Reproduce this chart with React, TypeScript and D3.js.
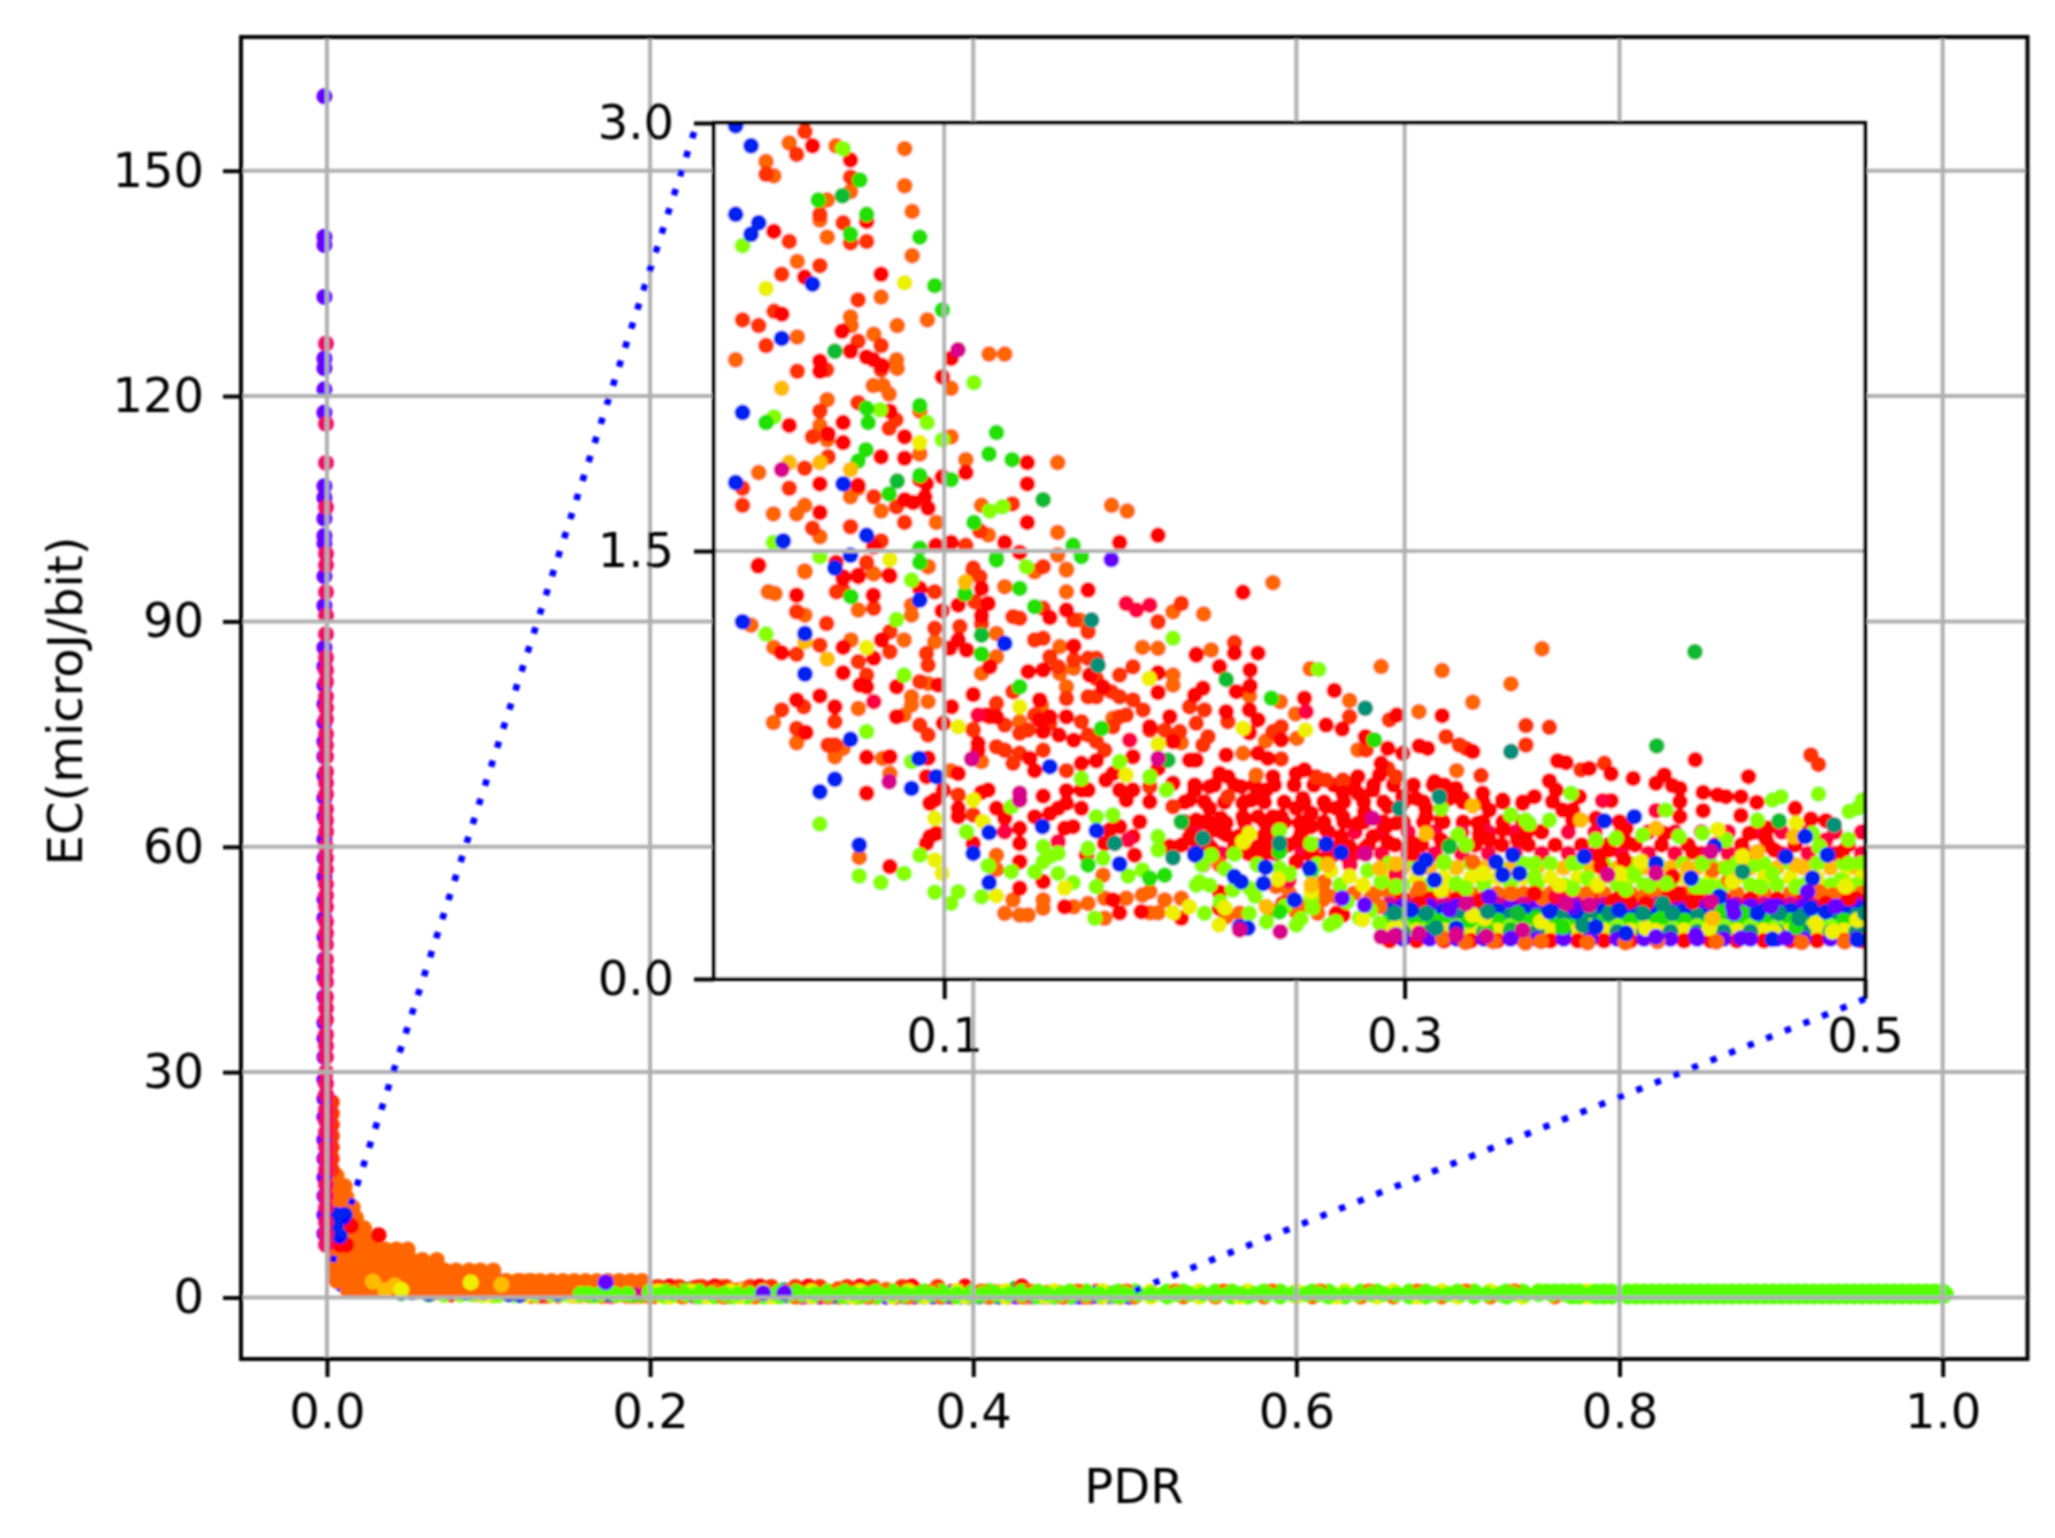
import { useEffect, useRef } from "react";
import * as d3 from "d3";

type Pt = [number, number];

// inset + main share these (PDR, EC)
const orangePts: Pt[] = [
  [.0327,2.93],[.053,2.92],[.0828,2.91],[.0226,2.865],[.026,2.815],[.0828,2.78],[.0593,2.76],[.0492,2.73],[.046,2.66],[.0861,2.69],
  [.0492,2.6],[.0861,2.535],[.0362,2.515],[.0726,2.39],[.0593,2.32],[.0596,2.29],[.0927,2.31],[.0796,2.29],[.0362,2.25],[.0694,2.26],
  [.0094,2.17],[.0793,2.17],[.0796,2.14],[.1195,2.19],[.1263,2.19],[.103,2.07],[.0692,2.08],[.0735,2.08],[.0761,2.05],[.0492,2.03],
  [.0894,1.99],[.046,1.94],[.0492,1.89],[.103,1.9],[.0894,1.84],[.1094,1.82],[.1493,1.81],[.0194,1.775],[.0626,1.72],[.0593,1.69],
  [.0394,1.66],[.0359,1.63],[.0258,1.63],[.0726,1.64],[.1162,1.66],[.1727,1.66],[.1795,1.64],[.0966,1.6],[.1192,1.556],[.046,1.55],
  [.1493,1.565],[.1493,1.486],[.0394,1.43],[.093,1.445],[.1531,1.436],[.1393,1.43],[.0694,1.42],
  [.0395,1.427],[.0236,1.357],[.0265,1.351],[.0692,1.421],[.0931,1.445],[.1393,1.427],[.1531,1.433],[.1531,1.357],[.1263,1.375],
  [.0858,1.31],[.0858,1.275],[.0627,1.293],[.0395,1.275],[.0161,1.24],[.026,1.162],[.0595,1.188],[.0826,1.188],[.0959,1.182],[.1227,1.211],
  [.1227,1.129],[.1162,1.071],[.1994,1.287],[.1589,1.258],[.1861,1.162],[.1929,1.159],[.1502,1.165],[.1502,1.071],[.1563,1.089],[.1994,1.065],
  [.1994,1.03],[.093,1.036],[.1531,1.024],[.0858,.989],[.0858,.96],[.093,.972],[.0627,.948],[.0826,.925],[.0258,.899],[.0359,.828],
  [.0561,.808],[.0525,.779],[.0732,.773],[.0764,.72],[.1029,.73],[.1162,.762],[.1263,.802],[.1126,.875],[.1423,.96],[.1328,.902],
  [.1733,.914],[.203,.828],[.0631,.426],[.1227,.434],[.1227,.384],[.169,.364],[.143,.277],[.143,.248],[.1299,.277],[.1263,.23],
  [.1328,.224],[.1365,.224],[.1563,.253],[.1625,.265],[.1697,.283],[.1697,.213],[.1791,.283],[.1893,.306],[.1861,.294],[.1893,.232],
  [.1929,.232],[.1958,.277],[.203,.283],
  [.2428,1.389],[.2127,1.279],[.216,1.153],[.259,1.087],[.2898,1.095],[.3163,1.081],[.3462,1.034],[.3296,.97],[.3062,.937],[.2761,.976],
  [.246,.972],[.2526,.929],[.2326,.992],[.2797,.803],[.2298,.791],[.2396,.834],[.2532,.843],[.2355,.715],[.3226,.73],[.2442,.324],
  [.2645,.277],[.2645,.312],[.2413,.242],[.2623,.23],[.2529,.236],[.2225,.218],[.2283,.23],[.3166,.143],[.2196,.4],[.3064,.318],
  [.2869,.3],[.2891,.254],[.3296,.411],[.3462,.3],
  [.3597,1.157],[.3795,.3],[.4041,.289],[.4801,.306],[.441,.347],[.4338,.382],[.4859,.294],[.36,.283],[.3593,.131],[.3795,.127],[.3959,.127],[.4099,.131],
  [.3265,.128],[.3525,.126],[.3385,.131],[.4355,.13],[.4725,.128],[.4912,.13],
  [.25,.3],[.265,.34],[.278,.3],[.258,.26],[.27,.29],[.285,.28],
];

const redOrangePts: Pt[] = [
  [.0395,2.97],[.0359,2.89],[.0226,2.82],[.0593,2.81],[.046,2.68],[.0561,2.65],[.0593,2.58],[.0663,2.585],[.0327,2.585],[.046,2.5],
  [.0294,2.47],[.0626,2.38],[.0261,2.34],[.0124,2.31],[.0194,2.29],[.0226,2.22],[.0626,2.235],[.0726,2.22],[.0362,2.13],[.0489,2.135],
  [.0726,2.135],[.0626,2.02],[.046,1.99],[.079,1.96],[.0761,1.93],[.0428,1.9],[.0496,1.83],[.0394,1.79],[.0124,1.72],[.0327,1.72],
  [.0694,1.69],[.0124,1.66],[.0828,1.6],[.0428,1.58],[.0593,1.585],[.0726,1.535],[.1094,1.52],[.1155,1.57],[.0663,1.46],[.1296,1.665],
  [.0793,1.655],[.143,1.445],[.1126,1.44],
  [.0532,1.357],[.0561,1.363],[.0359,1.287],[.0694,1.299],[.0894,1.042],[.0489,1.246],[.046,1.17],[.0764,1.147],[.0764,1.217],[.0359,1.138],
  [.0627,1.112],[.0663,1.065],[.039,.954],[.0294,.943],[.0525,.902],[.0359,.878],[.0496,.82],[.0525,.82],[.0894,.89],[.093,.855],
  [.0959,1.229],[.0959,1.357],[.0923,1.141],[.093,1.1],[.1068,1.235],[.1126,1.433],[.1155,1.41],[.1133,1.322],[.1162,1.246],[.1299,1.27],
  [.1328,1.264],[.143,1.299],[.1563,1.258],[.143,1.194],[.1393,1.188],[.1459,1.129],[.1495,1.094],[.1563,1.118],[.1625,1.217],[.1625,1.124],
  [.1661,1.124],[.1661,1.053],[.1726,1.007],[.1762,1.065],[.182,1.094],[.1625,.989],[.1762,.989],[.182,.978],[.1864,.943],[.1661,.989],
  [.1531,.983],[.1299,1.007],[.1227,.966],[.1198,.919],[.1263,.89],[.1328,.861],[.1365,.872],[.1393,.925],[.1459,.896],[.1596,.902],
  [.1625,.855],[.1661,.832],[.1697,.802],[.1762,.919],[.1791,.925],[.1893,.872],[.1958,.872],[.2023,.867],[.2066,.954],[.1126,.872],
  [.1227,.814],[.1263,.802],[.1299,.756],[.1328,.791],[.143,.802],[.1531,.73],[.1733,.884],[.1893,.674],[.1994,.604],[.1126,.575],
  [.1061,.645],[.203,1.316],[.1929,1.252],
  [.2261,1.179],[.2095,.896],[.2131,.943],[.2232,.902],[.2146,.849],[.2124,.82],[.2464,.884],[.2428,.867],[.2761,.919],[.2934,.908],
  [.2464,.771],[.2833,.803],[.2927,.738],[.2963,.709],[.2616,.709],[.2659,.697],[.2732,.697],[.2232,.639],[.318,.849],[.3238,.82],
  [.3267,.808],[.3332,.713],[.3527,.888],[.3527,.82],
  [.3629,.882],[.3766,.733],[.3868,.756],[.4765,.785],[.4798,.752],
];

const redPts: Pt[] = [
  [.0428,2.92],[.0593,2.87],[.026,2.62],[.0663,2.655],[.0394,2.46],[.0726,2.47],[.0295,2.33],[.0556,2.27],[.0593,2.2],[.046,2.165],
  [.046,2.13],[.0663,2.18],[.0692,2.17],[.073,2.15],[.103,2.175],[.0992,2.11],[.0764,1.99],[.0327,1.94],[.0561,1.95],[.0496,1.91],
  [.0561,1.88],[.0828,1.9],[.0828,1.825],[.0726,1.83],[.1361,1.81],[.1094,1.775],[.0992,1.76],[.0894,1.75],[.0923,1.735],[.046,1.735],
  [.0626,1.73],[.1361,1.735],[.0916,1.69],[.0865,1.67],[.0829,1.68],[.093,1.65],[.046,1.635],[.1361,1.6],[.1929,1.555],[.1762,1.53],
  [.1263,1.53],[.0964,1.52],[.103,1.53],[.1328,1.495],[.0694,1.515],[.0194,1.45],[.053,1.46],[.0626,1.415],[.0761,1.415],[.0561,1.41],
  [.0192,1.447],[.0359,1.345],[.0692,1.345],[.0627,1.41],[.0764,1.412],[.0561,1.404],[.0894,1.369],[.1625,1.363],[.1162,1.369],[.1191,1.316],
  [.1061,1.31],[.1162,1.274],[.0991,1.29],[.1531,1.293],[.1459,1.267],[.1563,1.167],[.1024,1.159],[.1061,1.188],[.1097,1.153],[.2095,1.135],
  [.0728,1.188],[.0561,1.162],[.0694,1.124],[.0294,1.143],[.0561,1.073],[.0793,1.024],[.0974,1.03],[.1126,.997],[.046,.992],[.0359,.978],
  [.0634,1.03],[.0663,1.024],[.1032,.954],[.0525,.954],[.1365,1.077],[.143,1.083],[.1929,1.073],[.1929,1.004],[.1632,1.065],[.169,1.024],
  [.1198,1.094],[.0793,.919],[.0399,.864],[.0663,.777],[.093,.774],[.0764,.779],[.0923,.709],[.0663,.651],[.0996,.896],[.1183,.925],
  [.1227,.919],[.1415,.978],[.1459,.919],[.143,.867],[.1531,.919],[.1499,.855],[.1563,.837],[.1147,.802],[.1147,.826],[.1372,.773],
  [.1393,.73],[.1596,.756],[.1661,.765],[.1415,.908],[.1061,.72],[.1061,.598],[.1061,.569],[.0938,.616],[.0959,.627],[.0996,.662],
  [.1191,.662],[.1162,.654],[.1227,.598],[.1263,.563],[.143,.641],[.1531,.66],[.1531,.616],[.1596,.662],[.1625,.662],[.1596,.598],
  [.1393,.569],[.1459,.58],[.1495,.598],[.156,.534],[.1523,.528],[.1328,.528],[.1328,.475],[.1126,.475],[.0938,.499],[.0966,.51],
  [.0923,.475],[.0764,.394],[.1328,.411],[.143,.341],[.1328,.318],[.1762,.232],[.1523,.253],[.1733,.277],[.1856,.236],[.203,.213],
  [.1702,.697],[.1733,.72],[.182,.779],[.1929,.738],[.182,.662],[.1791,.627],[.1893,.621],[.1762,.662],[.1994,.686],[.1762,.534],
  [.1719,.522],[.1849,.551],[.1827,.434],[.1618,.434],[.1697,.475],[.182,.499],[.2095,.557],[.2066,.499],[.198,.464],[.2066,.627],
  [.2095,.767],[.2066,.767],[.1994,.832],[.1893,.884],[.198,.919],
  [.2298,1.355],[.2095,1.138],[.2261,1.142],[.2363,1.142],[.2196,1.095],[.2329,1.083],[.2269,1.007],[.2329,1.027],[.2124,1.019],[.2088,.995],
  [.2695,1.011],[.2565,.984],[.2326,.943],[.2225,.937],[.2363,.908],[.2326,.863],[.2659,.89],[.2729,.876],[.2966,.925],[.3163,.923],
  [.283,.849],[.2927,.808],[.2992,.791],[.3064,.817],[.31,.808],[.3296,.797],[.2225,.785],[.2363,.791],[.2406,.773],[.2464,.838],
  [.2088,.767],[.2898,.756],[.2891,.715],[.2797,.709],[.2565,.733],[.2529,.72],[.2196,.72],[.313,.692],[.3173,.68],[.3224,.668],
  [.2862,.662],[.2732,.651],[.2797,.651],[.2558,.633],[.2428,.709],[.2399,.662],[.2363,.662],[.229,.674],[.2232,.709],[.2153,.674],
  [.2088,.662],[.3339,.651],[.3252,.633],[.3195,.633],[.3426,.627],[.3513,.616],[.2992,.639],[.305,.633],[.3093,.598],[.2927,.604],
  [.2659,.604],[.2703,.598],[.2826,.586],[.2298,.616],[.2334,.627],[.2153,.598],[.2529,.598],[.2594,.581],[.2363,.569],[.2298,.569],
  [.2203,.563],[.216,.546],[.2225,.546],[.2428,.569],[.2464,.569],[.2543,.546],[.2594,.534],[.2659,.522],[.2732,.569],[.2797,.546],
  [.2963,.546],[.292,.534],[.2862,.499],[.2927,.481],[.2761,.464],[.2724,.499],[.2536,.487],[.2392,.505],[.2363,.464],[.2392,.44],
  [.2326,.44],[.2225,.505],[.2167,.522],[.2088,.487],[.3093,.569],[.3036,.475],[.3036,.44],[.3159,.557],[.3159,.487],[.3318,.546],
  [.3325,.51],[.3426,.522],[.3368,.487],[.3491,.487],[.3527,.51],[.3368,.592],[.2529,.411],[.2594,.434],[.2688,.434],[.2196,.304],
  [.2196,.248],[.2471,.265],[.2703,.23],[.2732,.224],[.3064,.265],[.3328,.275],
  [.4263,.768],[.3665,.765],[.3701,.758],[.3802,.738],[.3897,.719],[.3993,.703],[.3629,.694],[.4128,.715],[.4092,.686],[.4164,.678],
  [.4196,.668],[.4494,.709],[.3658,.662],[.3564,.639],[.3759,.639],[.3643,.622],[.373,.592],[.3687,.592],[.3897,.625],[.4196,.622],
  [.4297,.654],[.436,.645],[.4396,.639],[.4461,.639],[.453,.619],[.4297,.59],[.4461,.573],[.4196,.569],[.4697,.598],[.4765,.561],
  [.483,.555],[.3831,.563],[.3933,.551],[.3962,.528],[.3593,.516],[.373,.557],[.4577,.528],[.4569,.493],[.4606,.452],[.4497,.51],
  [.4128,.51],[.3962,.481],[.3889,.452],[.3846,.429],[.4251,.446],[.4902,.446],[.3853,.394],[.3954,.417],[.4164,.359],
  [.4193,.3],[.4251,.271],[.415,.289],[.3904,.271],[.3976,.271],[.3658,.289],[.3564,.3],[.4931,.283],[.483,.265],[.4048,.265],
  [.216,.46],[.228,.5],[.24,.47],[.255,.51],[.268,.46],[.283,.46],[.262,.42],[.275,.43],
];

const crimsonPts: Pt[] = [
  [.1791,1.316],[.1893,1.31],[.1835,1.293],[.1806,.837],[.0694,.972],[.1147,.925],[.1263,.516],[.1495,.481],[.1799,.487],[.2124,.4],
  [.2572,.937],[.386,.625],[.4092,.59],[.483,.487],[.3665,.294],[.2963,.365],[.2497,.345],[.2763,.4],
];

const magentaPts: Pt[] = [
  [.106,2.205],[.0294,1.785],[.1929,.773],[.1328,.651],[.1328,.627],[.0761,.691],[.1119,.771],[.283,.438],[.2862,.563],[.246,.166],
  [.2898,.148],[.3224,.154],[.3062,.16],[.3267,.265],[.2283,.172],[.3513,.172],[.3701,.265],[.3802,.259],[.433,.271],[.433,.446],
  [.4092,.37],[.3882,.365],[.2955,.152],[.3355,.15],
];

const limePts: Pt[] = [
  [.0124,2.57],[.0261,1.97],[.0561,2.91],[.1129,2.09],[.0926,1.95],[.0992,1.89],[.046,1.48],[.1198,1.64],[.1253,1.655],[.0258,1.53],
  [.1357,1.445],[.0721,1.995],
  [.046,.543],[.0663,.867],[.0226,1.209],[.0793,1.26],[.0858,1.398],[.0826,1.065],[.0858,.762],[.0894,.434],[.0631,.361],[.0725,.338],
  [.0826,.37],[.0959,.304],[.1061,.306],[.1029,.265],[.1162,.288],[.1191,.397],[.1097,.516],[.1292,.376],[.1292,.604],[.143,.411],
  [.1459,.429],[.1495,.37],[.156,.338],[.143,.464],[.1495,.44],[.1393,.376],[.169,.423],[.1625,.458],[.1661,.324],[.1762,.762],
  [.1733,.575],[.1893,.709],[.1799,.361],[.1861,.382],[.1929,.499],[.1929,.452],[.1994,1.194],[.1654,.213],[.2095,.329],[.1661,.569],
  [.1596,.703],[.1965,.662],
  [.2627,1.085],[.2457,.52],[.2594,.475],[.216,.434],[.2261,.437],[.3462,.575],[.3159,.598],[.3231,.505],[.3267,.47],[.2109,.341],
  [.2153,.329],[.2254,.312],[.2326,.318],[.2457,.388],[.2963,.324],[.2898,.341],[.2594,.283],[.2326,.23],[.2131,.23],[.2674,.189],
  [.2529,.189],[.2804,.213],[.2891,.195],[.3224,.335],[.3267,.318],[.3173,.411],[.3527,.557],
  [.3542,.545],[.3564,.405],[.3564,.359],[.373,.405],[.373,.318],[.3795,.353],[.4063,.329],[.4135,.335],[.3962,.314],[.3998,.365],
  [.4034,.505],[.4193,.499],[.4294,.511],[.4396,.487],[.4294,.405],[.4294,.324],[.4265,.324],[.433,.324],[.4548,.324],[.4526,.4],
  [.4598,.37],[.47,.324],[.4598,.627],[.4635,.639],[.4798,.648],[.4931,.587],[.4967,.598],[.4989,.627],[.4928,.49],[.4801,.464],
  [.4772,.51],[.4895,.347],[.4931,.405],[.4396,.388],[.4135,.592],[.3723,.651],[.3629,.557],[.3831,.487],[.3918,.493],[.4533,.557],
  [.212,.4],[.222,.385],[.236,.4],[.25,.37],[.262,.4],[.272,.33],[.284,.38],[.22,.27],[.235,.29],[.248,.255],[.26,.25],[.275,.27],[.285,.24],[.27,.2],[.255,.21],[.24,.2],
];

const greenPts: Pt[] = [
  [.0894,2.6],[.0959,2.43],[.0992,2.345],[.0663,2.68],[.0593,2.61],[.0634,2.8],[.0453,2.73],[.0663,2],[.067,1.95],[.1227,1.915],
  [.1195,1.84],[.1295,1.82],[.066,1.855],[.0626,1.815],[.0894,1.765],[.103,1.75],[.156,1.52],[.1227,1.475],[.0894,1.51],[.0894,1.46],
  [.0894,2.01],[.1129,1.6],[.0226,1.95],[.1596,1.48],[.0761,1.7],
  [.0595,1.34],[.1328,1.369],[.109,1.351],[.1162,1.139],[.1328,1.024],[.1393,1.305],[.1227,1.468],[.1683,.878],[.1893,.353],[.1958,.364],[.1625,.399],
  [.2421,.984],[.2869,.838],[.2457,.446],[.2594,.376],[.2457,.235],[.3355,.17],[.3115,.215],
  [.4468,.23],[.3571,.213],[.4121,.218],[.4381,.242],[.3687,.183],[.47,.183],[.328,.205],[.2985,.222],
];

const darkGreenPts: Pt[] = [
  [.0558,2.745],[.0525,2.2],[.0796,1.745],[.143,1.68],[.1162,1.205],[.203,.551],[.1972,.767],[.2225,1.05],[.3491,.23],[.3462,.172],
  [.3195,.464],[.4261,1.147],[.4095,.817],[.4627,.554],
];

const yellowPts: Pt[] = [
  [.0226,2.42],[.0828,2.44],[.0894,1.88],[.0764,1.47],[.0663,1.162],[.0959,.563],[.0959,.417],[.0991,.37],[.1227,.291],[.1061,.884],
  [.1328,.954],[.1169,.551],[.1523,.318],[.1791,.715],[.1929,.823],[.189,1.053],[.1994,.232],[.2066,.253],[.1126,.627],
  [.2326,.51],[.2298,.481],[.257,.873],[.2298,.879],[.2761,.359],[.3339,.37],[.3296,.224],[.3348,.213],[.3159,.312],[.2594,.306],
  [.2193,.189],[.2963,.183],[.2818,.207],
  [.3933,.37],[.4027,.411],[.3672,.33],[.3839,.33],[.4468,.429],[.4425,.341],[.47,.546],[.436,.525],[.4916,.324],[.4967,.207],
  [.3593,.201],[.4048,.178],[.4323,.178],[.4606,.166],[.4786,.195],[.4859,.166],
  [.222,.25],[.245,.35],[.268,.38],[.282,.33],
];

const amberPts: Pt[] = [
  [.0294,2.07],[.0327,1.81],[.046,1.81],[.0593,1.785],[.0492,1.121],[.0395,1.182],[.1092,1.392],
  [.3296,.606],[.3093,.51],[.2399,.254],[.2666,.4],[.2963,.405],[.2891,.388],[.2594,.33],
  [.4092,.528],[.47,.4],[.4229,.388],[.4533,.446],[.4692,.499],[.4338,.213],[.3766,.557],
];

const tealPts: Pt[] = [
  [.164,1.258],[.1668,1.1],[.1741,.475],[.1994,.425],[.2829,.949],[.3462,.797],[.3151,.639],[.2124,.493],[.2457,.476],[.2956,.23],
  [.3093,.23],[.3361,.236],[.3137,.178],[.2978,.598],
  [.4866,.54],[.4468,.376],[.4121,.265],[.4164,.23],[.3889,.23],[.3773,.189],[.4627,.23],[.4714,.213],[.5,.23],[.4034,.23],
];

const bluePts: Pt[] = [
  [.0094,2.99],[.0161,2.92],[.0094,2.68],[.0194,2.65],[.0161,2.61],[.0428,2.435],[.0294,2.245],[.0124,1.985],[.0094,1.74],[.0561,1.735],
  [.0663,1.555],[.0301,1.535],[.0593,1.485],[.0525,1.44],
  [.0124,1.252],[.0395,1.211],[.0395,1.069],[.0894,1.328],[.1263,1.176],[.0593,.84],[.0891,.773],[.0966,.709],[.0858,.668],[.0525,.7],
  [.046,.656],[.0631,.47],[.1195,.513],[.1126,.44],[.1195,.338],[.1459,.744],[.1427,.534],[.1661,.52],[.1762,.403],[.2095,.44],
  [.2659,.473],[.2724,.443],[.2396,.391],[.229,.341],[.2261,.359],[.2387,.335],[.2522,.277],[.2319,.178],[.2283,.183],[.3064,.388],
  [.3093,.417],[.313,.347],[.3397,.411],[.3426,.365],[.3499,.37],[.347,.435],[.3028,.242],[.2088,.435],[.3224,.178],[.2587,.388],
  [.3998,.569],[.3868,.554],[.4345,.464],[.3629,.236],[.474,.499],[.4837,.435],[.4656,.429],[.4772,.353],[.4244,.353],[.3831,.183],
  [.4092,.405],[.483,.236],[.4765,.248],[.4533,.23],[.3933,.242],[.3745,.236],[.4598,.139],[.4967,.137],[.3962,.16],[.4367,.289],[.3781,.429],
];

const purplePts: Pt[] = [
  [.1726,1.47],[.2729,.283],[.2826,.259],[.3195,.242],[.2963,.154],[.3368,.289],[.3462,.143],
  [.4425,.254],[.4432,.23],[.373,.254],[.4591,.254],[.475,.306],[.4873,.254],[.4092,.148],[.4265,.154],[.4461,.143],[.4656,.143],
];

// dense floor of the cloud, read row by row: colour key, EC, PDR list
const lowRowXA = [.2935,.3052,.3171,.3288,.3403,.3517,.3634,.3752,.3866,.3981,.4098,.4214,.4329,.4443,.4561,.4676,.4792,.4908,.4985];
const lowRowXB = [.2992,.3109,.3226,.3345,.346,.3575,.3691,.3808,.3924,.404,.4155,.4271,.4386,.4502,.4618,.4733,.485,.4962];
const midRowXA = [.2031,.2148,.2262,.2379,.2496,.2612,.2728,.2843,.2958,.3074,.3191,.3306,.3422,.3538,.3654,.3769,.3885,.4001,.4116,.4232,.4349,.4464,.458,.4696,.4811,.4927];
const midRowXB = [.2089,.2205,.2321,.2437,.2553,.267,.2785,.2901,.3016,.3132,.3248,.3364,.348,.3596,.3711,.3827,.3943,.4059,.4174,.429,.4406,.4522,.4638,.4753,.4869,.4985];
const upRowX = [.2045,.2131,.2218,.2304,.2391,.2477,.2563,.265,.2736,.2822,.2909,.2995,.3082,.3168,.3254,.3341,.3427,.3513];
const upRowXB = [.2088,.2174,.2261,.2347,.2434,.252,.2606,.2693,.2779,.2865,.2952,.3038,.3125];

const denseRows: [keyof typeof C, number, number[]][] = [
  ["red", 0.68, upRowXB],
  ["red", 0.62, upRowX],
  ["red", 0.55, upRowX],
  ["crimson", 0.515, midRowXB],
  ["red", 0.47, midRowXA],
  ["crimson", 0.44, midRowXB],
  ["amber", 0.39, lowRowXB],
  ["lime", 0.405, lowRowXA],
  ["yellow", 0.355, lowRowXA],
  ["lime", 0.33, lowRowXB],
  ["orange", 0.3, lowRowXA],
  ["red", 0.28, lowRowXB],
  ["magenta", 0.262, lowRowXA],
  ["purple", 0.255, lowRowXB],
  ["blue", 0.24, lowRowXA],
  ["teal", 0.222, lowRowXB],
  ["green", 0.205, lowRowXA],
  ["lime", 0.185, lowRowXB],
  ["yellow", 0.17, lowRowXA],
  ["teal", 0.165, lowRowXB],
  ["red", 0.134, lowRowXA],
  ["purple", 0.14, lowRowXB],
];

// main axes only: the x = 0 strip (EC values)
const stripPurpleEc = [159.9,141.2,140.1,133.2,125,123.7,120.9,117.8,108,106.5,103.7,101.4,100.4,96,92.1,86.5,84,81.5,79,76.5,74,72,69.5,66.5,64,61,58.5,56,53,50.5,48,45,42.5,40,36.6,34.5,32,29,26.5,24,21,18.5,16,13.5,11,8.5];
const stripPinkEc = [127,116.3,111.1,105.2,99,97.5,93.9,90.8,88.3,85.2,83.5,82,80,78.5,77,75,73.5,72,70,68.5,67,65,63.5,62,60,58.5,57,55,53.5,52,50,48.5,47,45,43.5,42,40,38.5,37,35,33.5,32,30,28.5,27,25,23.5,22,20,18.5,17,15,13.5,12,10,8.5,7];
const stripRedEc = [26,24.5,23,21.5,20,18.5,17];

// orange cloud near the origin: [EC, PDR list]
const cloudRows: [number, number[]][] = [
  [16.2, [.006]],
  [14.8, [.006, .011]],
  [13.4, [.006, .012]],
  [12, [.006, .012, .016]],
  [10.6, [.006, .012, .018]],
  [9.2, [.006, .012, .018, .023]],
  [7.8, [.006, .012, .018, .024]],
  [6.4, [.004, .01, .016, .022, .029, .036, .043, .05]],
  [5, [.004, .01, .017, .024, .031, .038, .045, .052, .059, .068]],
  [3.6, [.004, .01, .017, .024, .031, .038, .045, .052, .059, .066, .073, .08, .088, .095, .103]],
  [2.2, [.006, .013, .02, .027, .034, .041, .048, .055, .062, .069, .076, .083, .09, .097, .104, .111, .118, .125, .132, .139, .146, .153, .16, .167, .174, .181, .188, .195]],
  [0.9, [.013, .02, .027, .034, .041, .048, .055, .062, .069, .076, .083, .09, .097, .104, .111, .118, .125, .132, .139, .146, .153]],
];

// a few marks on top of the cloud
const cloudAmber: Pt[] = [[.0285, 2.1], [.036, 1], [.042, 1.6], [.108, 1.7]];
const cloudYellow: Pt[] = [[.046, 1], [.089, 2]];
const cloudRed: Pt[] = [[.032, 8.3], [.008, 7], [.012, 7], [.015, 9.5]];
const cloudBlue: Pt[] = [[.0056, 11], [.011, 11], [.0056, 9.6], [.008, 8.2]];

// long band out to PDR = 1
const bandFringeRedOrange = [.205,.218,.232,.247,.262,.275,.29,.305,.322,.338,.356,.378];
const bandFringeRed = [.212,.24,.268,.298,.33,.362,.395,.43];
const bandBaseLime = [.2,.21,.22,.23,.24,.25,.26,.27,.28,.29,.3,.31,.32,.33,.34,.35,.36,.37,.38,.39,.4,.41,.42,.43,.44,.45,.46,.47,.48,.49,.5,.51,.52,.53,.54,.55,.56,.57,.58,.59,.6,.61,.62,.63,.64,.65,.66,.67,.68,.69,.7,.71,.72,.73,.74];
const bandUpperOrange = [.162,.178,.215,.24,.26,.285,.315,.345,.375,.405,.435,.465,.495,.525,.555,.585,.615,.645,.675,.705,.735];
const bandUpperYellow = [.205,.225,.25,.27,.3,.33,.36,.39,.42,.45,.48,.51,.54,.57,.6,.63,.66,.69,.72,.75,.78,.81];
const bandUpperLime = [.75,.755,.76,.765,.77,.775,.785,.79,.795,.805,.81,.815,.82,.825,.83,.835,.84,.845,.85,.855,.86,.865,.87,.875,.88,.885,.89,.895,.9,.905,.91,.915,.92,.925,.93,.935,.94,.945,.95,.955,.96,.965,.97,.975,.98,.985,.99,.995,1];
const bandLowerOrange = [.2,.22,.245,.265,.29,.31,.335,.36,.38,.41,.43,.455,.47,.5,.53,.55,.58,.61,.64,.66,.69,.72,.76];
const bandLowerYellow = [.212,.235,.255,.275,.3,.325,.35,.37,.395,.42,.445,.48,.51,.54,.565,.6,.625,.65,.675,.7,.74,.78,.815];
const bandLowerLime = [.77,.775,.785,.79,.795,.805,.81,.815,.82,.825,.83,.835,.84,.845,.85,.855,.86,.865,.87,.875,.88,.885,.89,.895,.9,.905,.91,.915,.92,.925,.93,.935,.94,.945,.95,.955,.96,.965,.97,.975,.98,.985,.99,.995,1];
const bandMiddleLime = [.157,.162,.169,.178,.186,.2,.207,.214,.222,.23,.238,.246,.254,.262,.27,.278,.286,.294,.302,.31,.318,.326,.334,.342,.35,.358,.366,.374,.382,.39,.398,.406,.414,.422,.43,.438,.446,.454,.462,.47,.478,.486,.494,.502,.51,.518,.526,.534,.542,.55,.558,.566,.574,.582,.59,.598,.606,.614,.622,.63,.638,.646,.654,.662,.67,.678,.686,.694,.702,.71,.718,.726,.734,.742,.75,.758,.766,.774,.782,.79,.798,.806,.814,.822,.83,.838,.846,.854,.862,.87,.878,.886,.894,.902,.91,.918,.926,.934,.942,.95,.958,.966,.974,.982,.99,1.002];
const bandSpecks: Pt[] = [[.1725, 2], [.27, .6], [.283, .6]];

const mainTicksX = [0, 0.2, 0.4, 0.6, 0.8, 1.0];
const mainTicksY = [0, 30, 60, 90, 120, 150];
const insetTicksX = [0.1, 0.3, 0.5];
const insetTicksY = [0, 1.5, 3];

const C = {
  red: "#ff0000", redOrange: "#ff3300", orange: "#ff6600", amber: "#ffbb00", yellow: "#eef000", lime: "#88ff00",
  band: "#55ff00", green: "#22e000", darkGreen: "#11bb33", teal: "#008f77", blue: "#0022f0", purple: "#6600ff",
  magenta: "#d8008c", crimson: "#ff0040", pink: "#ee0a6a",
};

const toPts = (pdr: number[], ec: number): Pt[] => pdr.map((x) => [x, ec] as Pt);

const sharedSeries: [string, Pt[]][] = [
  ...denseRows.map(([key, ec, pdr]) => [C[key], toPts(pdr, ec)] as [string, Pt[]]),
  [C.orange, orangePts],
  [C.redOrange, redOrangePts],
  [C.red, redPts],
  [C.crimson, crimsonPts],
  [C.lime, limePts],
  [C.green, greenPts],
  [C.darkGreen, darkGreenPts],
  [C.yellow, yellowPts],
  [C.amber, amberPts],
  [C.teal, tealPts],
  [C.blue, bluePts],
  [C.purple, purplePts],
  [C.magenta, magentaPts],
];

const mainOnlySeries: [string, Pt[]][] = [
  [C.redOrange, toPts(bandFringeRedOrange, 1.4)],
  [C.red, toPts(bandFringeRed, 1.45)],
  [C.orange, cloudRows.flatMap(([ec, pdr]) => toPts(pdr, ec))],
  [C.amber, cloudAmber],
  [C.yellow, cloudYellow],
  [C.red, cloudRed],
  [C.blue, cloudBlue],
  [C.band, toPts(bandBaseLime, 0.8)],
  [C.band, toPts(bandBaseLime, 0.14)],
  [C.orange, toPts(bandUpperOrange, 0.8)],
  [C.yellow, toPts(bandUpperYellow, 0.8)],
  [C.band, toPts(bandUpperLime, 0.8)],
  [C.orange, toPts(bandLowerOrange, 0.14)],
  [C.yellow, toPts(bandLowerYellow, 0.14)],
  [C.band, toPts(bandLowerLime, 0.14)],
  [C.band, toPts(bandMiddleLime, 0.45)],
  [C.purple, bandSpecks],
  [C.redOrange, stripRedEc.map((e) => [0.003, e] as Pt)],
  [C.purple, stripPurpleEc.map((e) => [-0.0016, e] as Pt)],
  [C.pink, stripPinkEc.map((e) => [-0.0006, e] as Pt)],
];

const W = 2055;
const H = 1538;
const FONT = "'DejaVu Sans'";
const TEXT = "#000";
const GRID = "#b0b0b0";
const FONT_SIZE = 48;

export default function App() {
  const svgRef = useRef<SVGSVGElement>(null);

  useEffect(() => {
    const svg = d3.select(svgRef.current);
    svg.selectAll("*").remove();

    const defs = svg.append("defs");
    defs.append("filter").attr("id", "soft").append("feGaussianBlur").attr("stdDeviation", 0.9);
    defs.append("clipPath").attr("id", "insetClip").append("rect").attr("x", 714).attr("y", 123).attr("width", 1151).attr("height", 856);

    const root = svg.append("g").attr("filter", "url(#soft)");

    const x = d3.scaleLinear().domain([-0.0532, 1.0525]).range([241, 2027.5]);
    const y = d3.scaleLinear().domain([-8.19, 167.8]).range([1359, 37]);
    const ix = d3.scaleLinear().domain([0, 0.5]).range([714, 1865]);
    const iy = d3.scaleLinear().domain([0, 3]).range([979, 123]);

    const drawDots = (g: any, sx: any, sy: any, series: [string, Pt[]][]) => {
      series.forEach(([color, pts]) => {
        g.append("g")
          .attr("fill", color)
          .selectAll("circle")
          .data(pts)
          .join("circle")
          .attr("cx", (d: Pt) => sx(d[0]))
          .attr("cy", (d: Pt) => sy(d[1]))
          .attr("r", 8);
      });
    };

    // main axes
    drawDots(root.append("g"), x, y, sharedSeries);
    drawDots(root.append("g"), x, y, mainOnlySeries);

    const grid = root.append("g").attr("stroke", GRID).attr("stroke-width", 4);
    mainTicksX.forEach((t) => grid.append("line").attr("x1", x(t)).attr("x2", x(t)).attr("y1", 37).attr("y2", 1359));
    mainTicksY.forEach((t) => grid.append("line").attr("x1", 241).attr("x2", 2027.5).attr("y1", y(t)).attr("y2", y(t)));

    // inset connectors
    const dotted = root.append("g").attr("stroke", "#0000ff").attr("stroke-width", 6.5).attr("stroke-dasharray", "6.5 13.5").attr("fill", "none");
    dotted.append("line").attr("x1", ix(-0.0074)).attr("y1", iy(3)).attr("x2", x(0.0034)).attr("y2", y(4.7)).attr("stroke-dashoffset", -9.4);
    dotted.append("line").attr("x1", x(0.5)).attr("y1", y(0.9)).attr("x2", ix(0.5)).attr("y2", iy(-0.07));

    const axisStyle = (g: any) => {
      g.selectAll(".domain").remove();
      g.selectAll("line").attr("stroke", "#000").attr("stroke-width", 4);
      g.selectAll("text").attr("font-family", FONT).attr("font-size", FONT_SIZE).attr("fill", TEXT);
    };

    root.append("g")
      .attr("transform", "translate(0,1359)")
      .call(d3.axisBottom(x).tickValues(mainTicksX).tickFormat(d3.format(".1f") as any).tickSize(18).tickPadding(17))
      .call(axisStyle);
    root.append("g")
      .attr("transform", "translate(241,0)")
      .call(d3.axisLeft(y).tickValues(mainTicksY).tickFormat(d3.format("d") as any).tickSize(18).tickPadding(19))
      .call(axisStyle);
    root.append("rect").attr("x", 241).attr("y", 37).attr("width", 1786.5).attr("height", 1322).attr("fill", "none").attr("stroke", "#000").attr("stroke-width", 4);

    root.append("text").attr("x", 1134).attr("y", 1503).attr("text-anchor", "middle").attr("font-family", FONT).attr("font-size", FONT_SIZE).attr("fill", TEXT).text("PDR");
    root.append("text").attr("transform", "translate(82,701) rotate(-90)").attr("text-anchor", "middle").attr("font-family", FONT).attr("font-size", FONT_SIZE).attr("fill", TEXT).text("EC(microJ/bit)");

    // inset axes
    root.append("rect").attr("x", 714).attr("y", 123).attr("width", 1151).attr("height", 856).attr("fill", "#fff");
    drawDots(root.append("g").attr("clip-path", "url(#insetClip)"), ix, iy, sharedSeries);

    const igrid = root.append("g").attr("stroke", GRID).attr("stroke-width", 4);
    insetTicksX.forEach((t) => igrid.append("line").attr("x1", ix(t)).attr("x2", ix(t)).attr("y1", 123).attr("y2", 979));
    insetTicksY.forEach((t) => igrid.append("line").attr("x1", 714).attr("x2", 1865).attr("y1", iy(t)).attr("y2", iy(t)));

    root.append("g")
      .attr("transform", "translate(0,979)")
      .call(d3.axisBottom(ix).tickValues(insetTicksX).tickFormat(d3.format(".1f") as any).tickSize(20).tickPadding(19))
      .call(axisStyle);
    root.append("g")
      .attr("transform", "translate(714,0)")
      .call(d3.axisLeft(iy).tickValues(insetTicksY).tickFormat(d3.format(".1f") as any).tickSize(20).tickPadding(20))
      .call(axisStyle);
    root.append("rect").attr("x", 714).attr("y", 123).attr("width", 1151).attr("height", 856).attr("fill", "none").attr("stroke", "#000").attr("stroke-width", 4);
  }, []);

  return (
    <div style={{ position: "absolute", left: 0, top: 0 }}>
      <svg ref={svgRef} width={W} height={H} style={{ display: "block", background: "#fff" }} />
    </div>
  );
}
